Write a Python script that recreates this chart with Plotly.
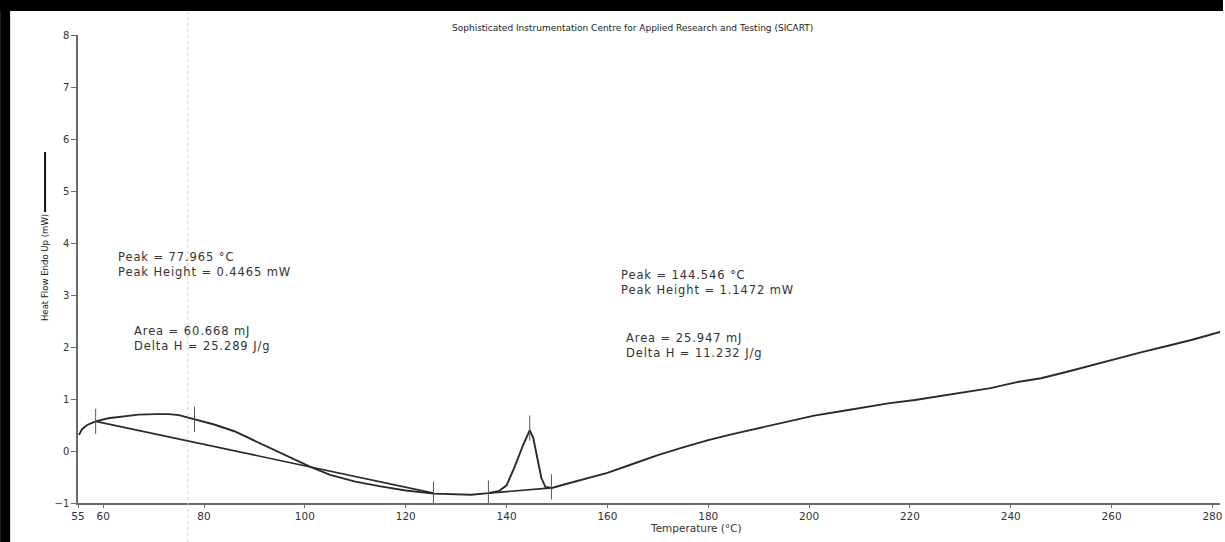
import plotly.graph_objects as go

# ---- data ----
temp = [55.2, 55.8, 56.8, 58.5, 61, 64, 67, 70.5, 73, 75, 78, 82, 86, 90, 94, 98, 101,
        105, 110, 115, 120, 125.5, 130, 133, 136.4, 138.5, 140, 141.7, 143.3, 144.6,
        145.3, 145.9, 146.9, 147.7, 149, 151.6, 155, 160, 165, 170, 175, 180, 185, 191,
        197, 201, 206, 211, 216, 221, 226, 231, 236, 241, 246, 251, 256, 261, 266, 271,
        276, 281.5]
heat_flow = [0.31, 0.42, 0.50, 0.57, 0.63, 0.67, 0.70, 0.71, 0.71, 0.69, 0.61, 0.51, 0.38,
             0.20, 0.02, -0.17, -0.30, -0.46, -0.59, -0.68, -0.76, -0.82, -0.84, -0.84,
             -0.81, -0.77, -0.66, -0.28, 0.12, 0.40, 0.25, -0.05, -0.52, -0.69, -0.71,
             -0.64, -0.55, -0.42, -0.25, -0.08, 0.07, 0.21, 0.33, 0.46, 0.60, 0.68, 0.76,
             0.84, 0.92, 0.98, 1.06, 1.14, 1.21, 1.32, 1.40, 1.52, 1.65, 1.78, 1.90, 2.02,
             2.14, 2.29]

base1_t = [58.5, 125.5]
base1_v = [0.57, -0.81]
base2_t = [136.4, 148.9]
base2_v = [-0.81, -0.71]

marker_t = [58.5, 78.1, 125.5, 136.4, 144.6, 148.9]
marker_v = [0.57, 0.61, -0.83, -0.81, 0.44, -0.69]

x_ticks = [55, 60, 80, 100, 120, 140, 160, 180, 200, 220, 240, 260, 280]
y_ticks = [-1, 0, 1, 2, 3, 4, 5, 6, 7, 8]

title_text = "Sophisticated Instrumentation Centre for Applied Research and Testing (SICART)"
x_title = "Temperature (°C)"
y_title = "Heat Flow Endo Up (mW)"

left_peak = ["Peak = 77.965 °C", "Peak Height = 0.4465 mW"]
left_area = ["Area = 60.668 mJ", "Delta H = 25.289 J/g"]
right_peak = ["Peak = 144.546 °C", "Peak Height = 1.1472 mW"]
right_area = ["Area = 25.947 mJ", "Delta H = 11.232 J/g"]
# (x, y) of the top-left corner of each block, in data units
block_pos = [(62.6, 3.90), (65.8, 2.48), (162.2, 3.56), (163.2, 2.35)]

# ---- figure ----
W, H = 1225, 542
ML, MR, MT, MB = 78, 3, 35, 39
PW, PH = W - ML - MR, H - MT - MB

def px_x(p):
    return (p - ML) / PW

def px_y(p):
    return (H - MB - p) / PH

LINE = "#2a2a2a"
AX = "#6a6a6a"
TXT = "#333333"
FONT = "DejaVu Sans, Verdana, Arial, sans-serif"

fig = go.Figure()
fig.add_trace(go.Scatter(x=base1_t, y=base1_v, mode="lines",
                         line=dict(color=LINE, width=1.6), showlegend=False, hoverinfo="skip"))
fig.add_trace(go.Scatter(x=base2_t, y=base2_v, mode="lines",
                         line=dict(color=LINE, width=1.6), showlegend=False, hoverinfo="skip"))
fig.add_trace(go.Scatter(x=temp, y=heat_flow, mode="lines",
                         line=dict(color=LINE, width=1.9), showlegend=False))
fig.add_trace(go.Scatter(x=marker_t, y=marker_v, mode="markers",
                         marker=dict(symbol="line-ns", size=18,
                                     line=dict(width=1, color="#555")),
                         showlegend=False, hoverinfo="skip"))

annos = []
for lines, (xx, yy) in zip([left_peak, left_area, right_peak, right_area], block_pos):
    txt = "<br>".join('<span style="letter-spacing:0.9px">%s</span>' % s for s in lines)
    annos.append(dict(x=xx, y=yy, xref="x", yref="y", text=txt, showarrow=False,
                      xanchor="left", yanchor="top", align="left",
                      font=dict(family=FONT, size=11.5, color=TXT)))
annos.append(dict(x=px_x(633), y=px_y(28), xref="paper", yref="paper", text=title_text,
                  showarrow=False, xanchor="center", yanchor="middle",
                  font=dict(family=FONT, size=9, color="#222")))
annos.append(dict(x=px_x(697), y=px_y(528), xref="paper", yref="paper", text=x_title,
                  showarrow=False, xanchor="center", yanchor="middle",
                  font=dict(family=FONT, size=10.5, color=TXT)))
annos.append(dict(x=px_x(44), y=px_y(268), xref="paper", yref="paper", text=y_title,
                  showarrow=False, xanchor="center", yanchor="middle", textangle=-90,
                  font=dict(family="Liberation Sans Narrow, DejaVu Sans Condensed, Arial Narrow, sans-serif",
                            size=9.5, color="#222")))

shapes = [
    # scan artifact: faint vertical dotted line
    dict(type="line", xref="paper", yref="paper", x0=px_x(188), x1=px_x(188),
         y0=px_y(542), y1=px_y(12), line=dict(color="#d0d0d0", width=1, dash="dot")),
    # line segment after the y title
    dict(type="line", xref="paper", yref="paper", x0=px_x(45), x1=px_x(45),
         y0=px_y(212), y1=px_y(152), line=dict(color="#111", width=2)),
    # black scan borders
    dict(type="rect", xref="paper", yref="paper", x0=px_x(0), x1=px_x(10),
         y0=px_y(542), y1=px_y(0), fillcolor="black", line=dict(width=0)),
    dict(type="rect", xref="paper", yref="paper", x0=px_x(0), x1=px_x(1225),
         y0=px_y(11), y1=px_y(0), fillcolor="black", line=dict(width=0)),
]

fig.update_layout(
    width=W, height=H,
    margin=dict(l=ML, r=MR, t=MT, b=MB, pad=0),
    paper_bgcolor="white", plot_bgcolor="white",
    annotations=annos, shapes=shapes,
    xaxis=dict(range=[55, 281.5], tickvals=x_ticks, ticktext=[str(v) for v in x_ticks],
               showgrid=False, zeroline=False, showline=True, linecolor=AX, linewidth=1.5,
               ticks="outside", ticklen=3, tickcolor=AX,
               tickfont=dict(family=FONT, size=10.5, color=TXT)),
    yaxis=dict(range=[-1, 8], tickvals=y_ticks, showgrid=False, zeroline=False,
               showline=True, linecolor=AX, linewidth=1.5,
               ticks="outside", ticklen=5, tickcolor=AX,
               tickfont=dict(family=FONT, size=10, color=TXT)),
)

fig.write_html("out.html")
